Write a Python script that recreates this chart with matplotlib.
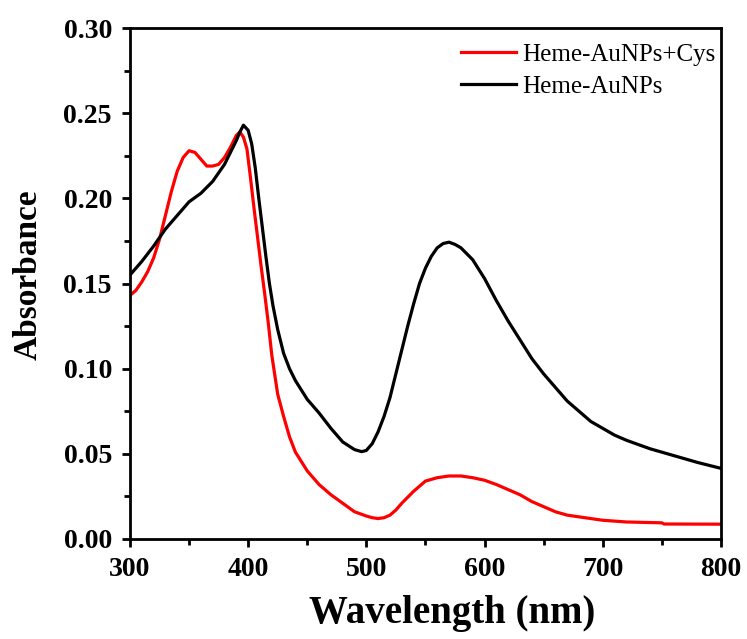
import matplotlib
matplotlib.use("Agg")
import matplotlib.pyplot as plt
from matplotlib.ticker import MultipleLocator

plt.rcParams["font.family"] = ["Liberation Serif", "DejaVu Serif"]

# ── Dados ─────────────────────────────────────────────────────────────────────
wl_cys = [300, 305, 310, 315, 320, 325, 330, 335, 340, 345, 350, 355, 360, 365,
          370, 375, 380, 385, 390, 393, 396, 399, 402, 405, 408, 411, 414, 417,
          420, 425, 430, 435, 440, 450, 460, 470, 480, 490, 500, 505, 510, 515,
          520, 525, 530, 540, 550, 560, 570, 580, 590, 600, 610, 620, 630, 640,
          650, 660, 670, 680, 690, 700, 720, 750, 752, 800]
abs_cys = [0.143, 0.146, 0.151, 0.157, 0.165, 0.176, 0.190, 0.204, 0.216, 0.224,
           0.228, 0.227, 0.223, 0.219, 0.219, 0.220, 0.224, 0.230, 0.237, 0.239,
           0.236, 0.229, 0.212, 0.194, 0.177, 0.160, 0.144, 0.127, 0.108, 0.085,
           0.072, 0.060, 0.051, 0.040, 0.032, 0.026, 0.021, 0.016, 0.0135, 0.0125,
           0.012, 0.0125, 0.014, 0.017, 0.021, 0.028, 0.034, 0.036, 0.037, 0.037,
           0.036, 0.0345, 0.032, 0.029, 0.026, 0.022, 0.019, 0.016, 0.014, 0.013,
           0.012, 0.011, 0.010, 0.0095, 0.0088, 0.0087]

wl_au = [300, 310, 320, 330, 340, 350, 360, 370, 380, 385, 390, 393, 396, 400,
         403, 406, 409, 412, 415, 418, 421, 425, 430, 435, 440, 450, 460, 470,
         480, 490, 496, 500, 505, 510, 515, 520, 525, 530, 535, 540, 545, 550,
         555, 560, 565, 570, 575, 580, 590, 600, 610, 620, 630, 640, 650, 660,
         670, 680, 690, 700, 710, 720, 740, 760, 780, 800]
abs_au = [0.155, 0.163, 0.172, 0.182, 0.190, 0.198, 0.203, 0.210, 0.220, 0.227,
          0.234, 0.239, 0.243, 0.240, 0.232, 0.218, 0.200, 0.183, 0.166, 0.150,
          0.137, 0.123, 0.109, 0.100, 0.093, 0.082, 0.074, 0.065, 0.057, 0.0525,
          0.0513, 0.052, 0.056, 0.063, 0.072, 0.083, 0.097, 0.111, 0.125, 0.138,
          0.150, 0.159, 0.166, 0.171, 0.1735, 0.1743, 0.173, 0.171, 0.164, 0.153,
          0.140, 0.128, 0.117, 0.106, 0.097, 0.089, 0.081, 0.075, 0.069, 0.065,
          0.061, 0.058, 0.053, 0.049, 0.045, 0.0415]

# ── Figura ────────────────────────────────────────────────────────────────────
fig = plt.figure(figsize=(7.47, 6.39), dpi=100)
ax = fig.add_axes([0.174, 0.1565, 0.791, 0.7995])

ax.plot(wl_cys, abs_cys, color="#ff0000", lw=2.3, label="Heme-AuNPs+Cys")
ax.plot(wl_au, abs_au, color="black", lw=2.3, label="Heme-AuNPs")

ax.set_xlim(300, 800)
ax.set_ylim(0, 0.30)
ax.xaxis.set_major_locator(MultipleLocator(100))
ax.xaxis.set_minor_locator(MultipleLocator(50))
ax.yaxis.set_major_locator(MultipleLocator(0.05))
ax.yaxis.set_minor_locator(MultipleLocator(0.025))
ax.yaxis.set_major_formatter(plt.FuncFormatter(lambda v, p: f"{v:.2f}"))

for s in ax.spines.values():
    s.set_linewidth(2.0)
ax.tick_params(which="major", direction="out", length=6, width=2.0,
               labelsize=20, top=False, right=False, pad=7)
ax.tick_params(which="minor", direction="out", length=4, width=2.0,
               top=False, right=False)
for lab in ax.get_xticklabels() + ax.get_yticklabels():
    lab.set_fontweight("bold")

ax.set_xlabel("Wavelength (nm)", fontsize=28, fontweight="bold", labelpad=9)
ax.set_ylabel("Absorbance", fontsize=24, fontweight="bold", labelpad=14)
ax.xaxis.label.set_x(0.545)
ax.yaxis.label.set_y(0.517)

ax.legend(loc="upper right", bbox_to_anchor=(1.017, 1.0), frameon=False,
          fontsize=18, handlelength=2.2, handletextpad=0.25,
          labelspacing=0.4, borderaxespad=0.2)

fig.savefig("out.png", dpi=100)
